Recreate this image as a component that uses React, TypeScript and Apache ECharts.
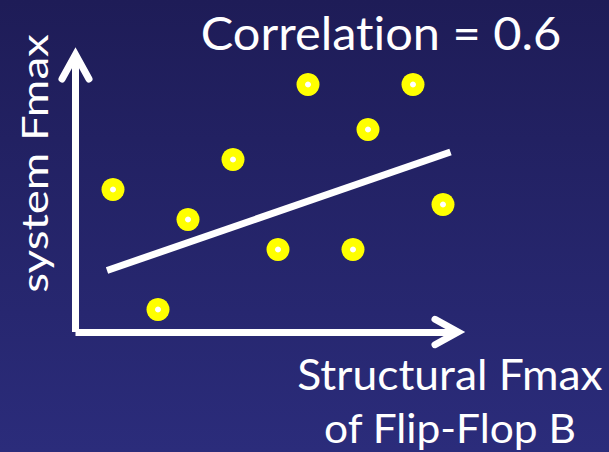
import React, { useEffect, useRef } from "react";
import * as echarts from "echarts";

// Data (arbitrary units)
const pointX = [2.5, 5.5, 7.5, 10.5, 13.5, 15.5, 18.5, 19.5, 22.5, 24.5];
const pointY = [9.5, 1.5, 7.5, 11.5, 5.5, 16.5, 5.5, 13.5, 16.5, 8.5];
const trendX = [2.1, 25.0];
const trendY = [4.1, 12.0];
const xMax = 25.5;
const yMax = 18.5;

const titleText = "Correlation = 0.6";
const xLabelLines = ["Structural Fmax", "of Flip-Flop B"];
const yLabelText = "system Fmax";

const FONT = "Lato";

function inkWidth(text: string, size: number): number {
  const c = document.createElement("canvas").getContext("2d");
  if (!c) return text.length * size * 0.5;
  c.font = `${size}px ${FONT}`;
  const m = c.measureText(text);
  const w = (m.actualBoundingBoxLeft || 0) + (m.actualBoundingBoxRight || 0);
  return w > 0 ? w : m.width;
}

function textEl(text: string, size: number, x: number, y: number, targetW: number, rotation = 0) {
  const s = targetW / inkWidth(text, size);
  return {
    type: "text",
    x,
    y,
    rotation,
    scaleX: s,
    silent: true,
    style: {
      text,
      fontSize: size,
      fontFamily: FONT,
      fill: "#ffffff",
      align: "center",
      verticalAlign: "middle",
    },
  };
}

export default function App() {
  const ref = useRef<HTMLDivElement>(null);

  useEffect(() => {
    if (!ref.current) return;
    const chart = echarts.init(ref.current, undefined, { renderer: "svg" });
    const points = pointX.map((x, i) => [x, pointY[i]]);
    const trend = trendX.map((x, i) => [x, trendY[i]]);
    const axisStyle = {
      show: true,
      onZero: false,
      lineStyle: { color: "#ffffff", width: 7, cap: "butt" },
    };
    chart.setOption({
      animation: false,
      backgroundColor: "transparent",
      grid: { left: 75.5, top: 54.5, width: xMax * 15, height: yMax * 15, containLabel: false },
      xAxis: {
        type: "value",
        min: 0,
        max: xMax,
        axisLine: axisStyle,
        axisTick: { show: false },
        axisLabel: { show: false },
        splitLine: { show: false },
      },
      yAxis: {
        type: "value",
        min: 0,
        max: yMax,
        axisLine: axisStyle,
        axisTick: { show: false },
        axisLabel: { show: false },
        splitLine: { show: false },
      },
      series: [
        {
          type: "line",
          data: trend,
          showSymbol: false,
          symbol: "none",
          lineStyle: { color: "#ffffff", width: 7, cap: "butt" },
          silent: true,
          z: 2,
        },
        {
          type: "scatter",
          data: points,
          symbol: "circle",
          symbolSize: 23,
          itemStyle: { color: "#ffff00", opacity: 1 },
          silent: true,
          z: 3,
        },
        {
          type: "scatter",
          data: points,
          symbol: "circle",
          symbolSize: 6,
          itemStyle: { color: "#ffffff", opacity: 1 },
          silent: true,
          z: 4,
        },
      ],
    });

    const [xEnd, yBase] = chart.convertToPixel({ gridIndex: 0 }, [xMax, 0]) as number[];
    const [xOrig, yTop] = chart.convertToPixel({ gridIndex: 0 }, [0, yMax]) as number[];
    const arrowStyle = {
      stroke: "#ffffff",
      lineWidth: 7,
      lineCap: "round",
      lineJoin: "miter",
      fill: null,
    };

    chart.setOption({
      graphic: [
        {
          type: "polyline",
          silent: true,
          z: 10,
          shape: {
            points: [
              [xEnd - 23, yBase - 12.7],
              [xEnd, yBase],
              [xEnd - 23, yBase + 12.7],
            ],
          },
          style: arrowStyle,
        },
        {
          type: "polyline",
          silent: true,
          z: 10,
          shape: {
            points: [
              [xOrig - 13.5, yTop + 24.5],
              [xOrig, yTop],
              [xOrig + 13.5, yTop + 24.5],
            ],
          },
          style: arrowStyle,
        },
        textEl(titleText, 47, 381, 32, 358),
        textEl(xLabelLines[0], 43, 450, 373.6, 304),
        textEl(xLabelLines[1], 41, 450, 427.3, 250),
        textEl(yLabelText, 37, 34.2, 163.5, 257, Math.PI / 2),
      ],
    });

    return () => chart.dispose();
  }, []);

  return (
    <>
      <style>{"svg text { font-variant-ligatures: none; font-feature-settings: 'liga' 0, 'clig' 0; }"}</style>
      <div
        ref={ref}
        style={{
          position: "fixed",
          left: 0,
          top: 0,
          width: 609,
          height: 452,
          background: "linear-gradient(180deg, #1e1c57 0%, #2b2c7b 100%)",
        }}
      />
    </>
  );
}
